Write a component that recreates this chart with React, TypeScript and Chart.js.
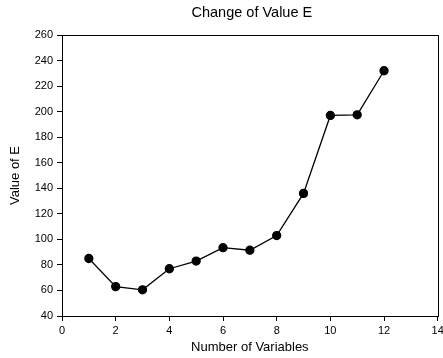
import React, { useEffect, useRef } from "react";
import { Chart, registerables } from "chart.js";

Chart.register(...registerables);

const numVariables = [1, 2, 3, 4, 5, 6, 7, 8, 9, 10, 11, 12];
const valueE = [85, 63, 60.5, 77, 83, 93.5, 91.5, 103, 136, 197, 197.5, 232];
const chartTitle = "Change of Value E";
const xTitle = "Number of Variables";
const yTitle = "Value of E";

const FONT = "'Liberation Sans', Arial, sans-serif";

export default function App() {
  const ref = useRef<HTMLCanvasElement>(null);
  useEffect(() => {
    document.body.style.margin = "0";
    const canvas = ref.current!;
    const framePlugin = {
      id: "frameAndTitles",
      afterDraw(chart: any) {
        const { ctx, chartArea } = chart;
        ctx.save();
        ctx.strokeStyle = "#000";
        ctx.lineWidth = 1;
        ctx.strokeRect(
          Math.round(chartArea.left) + 0.5,
          Math.round(chartArea.top) + 0.5,
          Math.round(chartArea.right - chartArea.left),
          Math.round(chartArea.bottom - chartArea.top)
        );
        ctx.fillStyle = "#000";
        ctx.textAlign = "center";
        ctx.textBaseline = "middle";
        const cx = (chartArea.left + chartArea.right) / 2;
        ctx.font = `14.5px ${FONT}`;
        ctx.fillText(chartTitle, cx + 2, 13);
        ctx.font = `13px ${FONT}`;
        ctx.fillText(xTitle, cx, 347);
        ctx.translate(15, (chartArea.top + chartArea.bottom) / 2);
        ctx.rotate(-Math.PI / 2);
        ctx.fillText(yTitle, 0, 0);
        ctx.restore();
      },
    };
    const chart = new Chart(canvas, {
      type: "line",
      data: {
        datasets: [
          {
            data: numVariables.map((x, i) => ({ x, y: valueE[i] })),
            borderColor: "#000",
            backgroundColor: "#000",
            borderWidth: 1.3,
            pointRadius: 4,
            pointHoverRadius: 4,
            tension: 0,
          },
        ],
      },
      options: {
        animation: false,
        responsive: false,
        layout: { padding: { top: 35, right: 4, left: 0, bottom: 0 } },
        plugins: { legend: { display: false }, title: { display: false }, tooltip: { enabled: false } },
        scales: {
          x: {
            type: "linear",
            min: 0,
            max: 14,
            ticks: { stepSize: 2, color: "#000", font: { family: FONT, size: 11 }, padding: 3 },
            grid: { drawOnChartArea: false, tickLength: 5, color: "#000" },
            border: { color: "#000" },
            afterFit(scale: any) {
              scale.height = 42;
              scale.paddingRight = 0;
              scale.paddingLeft = 0;
            },
          },
          y: {
            min: 40,
            max: 260,
            ticks: { stepSize: 20, color: "#000", font: { family: FONT, size: 11 }, padding: 4 },
            grid: { drawOnChartArea: false, tickLength: 5, color: "#000" },
            border: { color: "#000" },
            afterFit(scale: any) {
              scale.width = 62;
            },
          },
        },
      },
      plugins: [framePlugin],
    });
    return () => chart.destroy();
  }, []);
  return <canvas ref={ref} width={443} height={358} style={{ display: "block" }} />;
}
